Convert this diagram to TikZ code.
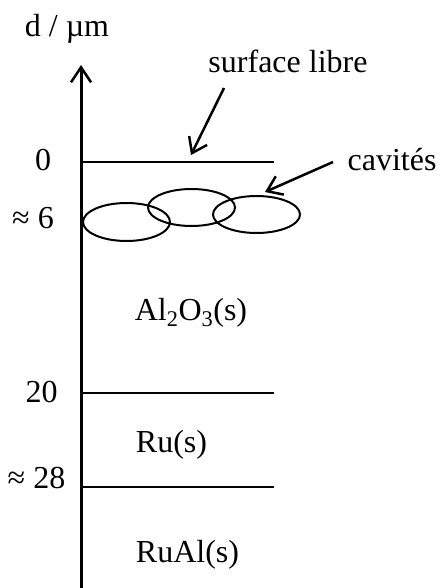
\documentclass[tikz,border=0pt]{standalone}
\usepackage{fontspec}
\setmainfont{Liberation Serif}
\usetikzlibrary{arrows.meta, shapes.geometric, positioning}

\begin{document}
\begin{tikzpicture}[
        x=1pt, y=-1pt,
        axis/.style={draw, line width=3pt, -{Straight Barb[length=15pt, width=20pt, line width=2.5pt]}},
        level/.style={draw, line width=2pt},
        cavity/.style={draw, ellipse, line width=2pt, minimum width=87pt, minimum height=38pt, inner sep=0pt},
        lbl/.style={font=\fontsize{32}{38}\selectfont, inner sep=0pt, anchor=base},
        pointer/.style={draw, line width=2.5pt, -{Straight Barb[length=14pt, width=20pt]}}
    ]
        \useasboundingbox (0,0) rectangle (443,588);

        % Depth axis
        \coordinate (bottom) at (81,588);
        \coordinate (top) at (81,65);
        \path [axis] (bottom) -- (top);

        % Interfaces
        \path [level] (81,162) -- (274,162);
        \path [level] (81,393) -- (274,393);
        \path [level] (81,487) -- (274,487);

        % Labels
        \node [lbl] (dunit) at (67,37) {d / µm};
        \node [lbl] (surf) at (288,73) {surface libre};
        \node [lbl] (zero) at (43,171) {0};
        \node [lbl] (cav) at (392,170) {cavités};
        \node [lbl] (six) at (33,228) {≈ 6};
        \node [lbl] (alumina) at (191,320) {Al\textsubscript{2}O\textsubscript{3}(s)};
        \node [lbl] (twenty) at (41.5,402) {20};
        \node [lbl] (ru) at (171.5,452) {Ru(s)};
        \node [lbl] (twentyeight) at (36.5,488) {≈ 28};
        \node [lbl] (rual) at (187.5,562) {RuAl(s)};

        % Cavities
        \node [cavity] (cav1) at (126.5,222) {};
        \node [cavity, minimum height=37pt] (cav2) at (191.5,207.5) {};
        \node [cavity, minimum height=37pt] (cav3) at (256.5,214.5) {};

        % Pointers
        \coordinate (surfTail) at (224,88);
        \coordinate (surfHead) at (191,155);
        \coordinate (cavTail) at (333,162);
        \coordinate (cavHead) at (265,192);
        \path [pointer] (surfTail) -- (surfHead);
        \path [pointer] (cavTail) -- (cavHead);
    \end{tikzpicture}
\end{document}
